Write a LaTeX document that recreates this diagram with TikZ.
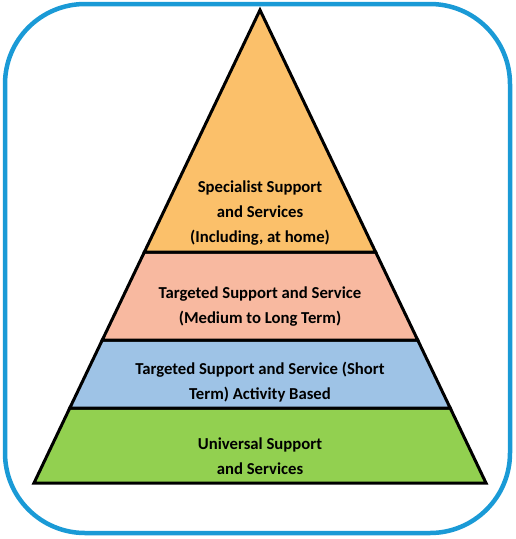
\documentclass[tikz,border=0pt]{standalone}
\usepackage{fontspec}
\setmainfont{Carlito}
\begin{document}
\begin{tikzpicture}[x=1pt,y=-1pt,
  layer/.style={draw=black,line width=3pt,line join=miter},
  lbl/.style={font=\bfseries\fontsize{16.7}{25}\selectfont,align=center,text=black,inner sep=0pt}]
\useasboundingbox (0,0) rectangle (515,539);
\definecolor{bord}{HTML}{1A9AD6}
\definecolor{cOrange}{HTML}{FBC06A}
\definecolor{cSalmon}{HTML}{F8B9A0}
\definecolor{cBlue}{HTML}{9EC3E6}
\definecolor{cGreen}{HTML}{92D050}
\draw[bord,line width=4.5pt,rounded corners=80pt] (5,4) rectangle (510,533);
\filldraw[layer,fill=cGreen] (69.8,408) -- (450.2,408) -- (486,483) -- (34,483) -- cycle;
\filldraw[layer,fill=cBlue] (102.3,340) -- (417.7,340) -- (450.2,408) -- (69.8,408) -- cycle;
\filldraw[layer,fill=cSalmon] (144.4,252) -- (375.6,252) -- (417.7,340) -- (102.3,340) -- cycle;
\filldraw[layer,fill=cOrange] (260,10) -- (375.6,252) -- (144.4,252) -- cycle;
\node[lbl] (t1) at (260,213) {Specialist Support\\and Services\\(Including, at home)};
\node[lbl] (t2) at (260,306.5) {Targeted Support and Service\\(Medium to Long Term)};
\node[lbl] (t3) at (260,382.5) {Targeted Support and Service (Short\\Term) Activity Based};
\node[lbl] (t4) at (260,456.5) {Universal Support\\and Services};
\end{tikzpicture}
\end{document}
